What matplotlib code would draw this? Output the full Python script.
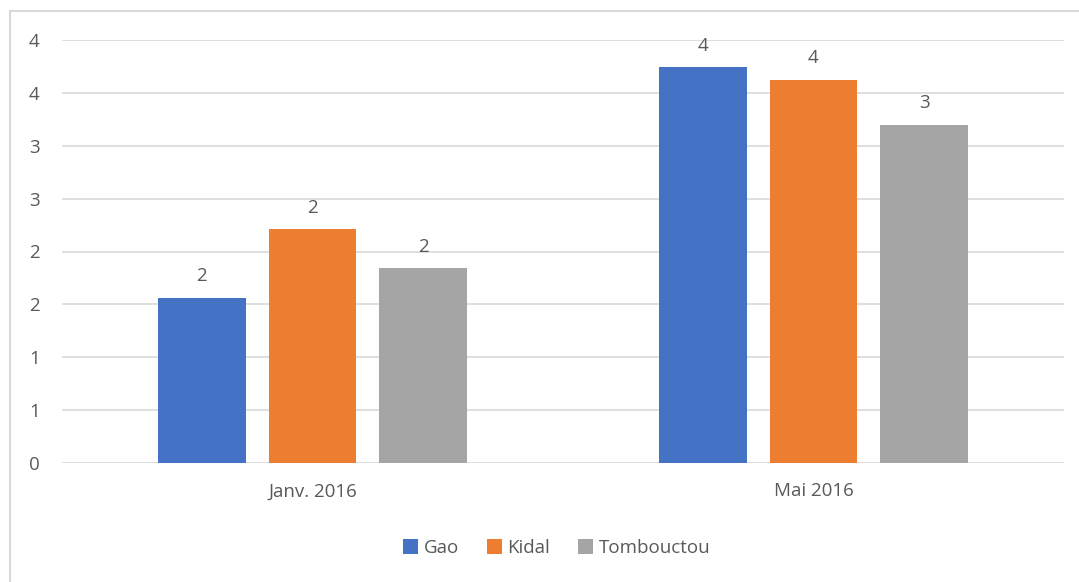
import math
import numpy as np
import matplotlib.pyplot as plt
from matplotlib.patches import Rectangle
from matplotlib.ticker import FuncFormatter

# Données
categories = ['Janv. 2016', 'Mai 2016']
series = ['Gao', 'Kidal', 'Tombouctou']
gao = [1.56, 3.74]
kidal = [2.21, 3.62]
tombouctou = [1.84, 3.20]
couleurs = ['#4472C4', '#ED7D31', '#A5A5A5']

plt.rcParams['font.family'] = ['Open Sans', 'DejaVu Sans']
gris = '#595959'
taille = 13.5

W, H = 1079, 582
fig = plt.figure(figsize=(W / 100, H / 100), dpi=100)

# Cadre du graphique (dépasse à droite et en bas)
fig.patches.append(Rectangle((10 / W, -0.05), 1.1, 1 - 11 / H + 0.05,
                             transform=fig.transFigure, fill=False,
                             edgecolor='#D9D9D9', linewidth=1.5))

ax = fig.add_axes([62 / W, (H - 463) / H, 1002 / W, 423 / H])


def arrondi(v):
    # arrondi "à l'excel" (0.5 -> 1)
    return f'{math.floor(v + 0.5):d}'


x = np.arange(len(categories))
largeur = 0.175
pas = 0.221
for i, (nom, vals) in enumerate(zip(series, [gao, kidal, tombouctou])):
    barres = ax.bar(x + (i - 1) * pas, vals, largeur, color=couleurs[i],
                    label=nom, zorder=3)
    for b, v in zip(barres, vals):
        ax.text(b.get_x() + b.get_width() / 2, v + 0.12, arrondi(v),
                ha='center', va='bottom', fontsize=taille, color=gris)

ax.set_xlim(-0.5, 1.5)
ax.set_ylim(0, 4)
ax.set_yticks(np.arange(0, 4.01, 0.5))
ax.yaxis.set_major_formatter(FuncFormatter(lambda v, p: arrondi(v)))
ax.set_xticks(x)
ax.set_xticklabels(categories)
ax.tick_params(axis='both', length=0, labelsize=taille, colors=gris)
ax.tick_params(axis='y', pad=16)
ax.tick_params(axis='x', pad=14)
ax.grid(axis='y', color='#D9D9D9', linewidth=1.2, zorder=0)
for s in ax.spines.values():
    s.set_visible(False)

fig.legend(loc='center', bbox_to_anchor=(0.516, (H - 548) / H), ncol=3,
           frameon=False, fontsize=taille, handlelength=0.8, handleheight=0.8,
           handletextpad=0.3, columnspacing=1.5, labelcolor=gris)

fig.savefig('out.png', dpi=100)
